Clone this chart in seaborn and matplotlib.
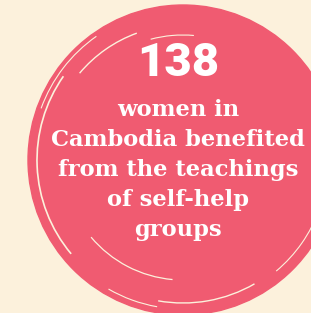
import matplotlib
matplotlib.use("Agg")
import matplotlib.pyplot as plt
from matplotlib.patches import Circle, Arc
import seaborn as sns

# infographic content
headline = "138"
body_lines = ["women in", "Cambodia benefited", "from the teachings", "of self-help", "groups"]

pink = "#F05B71"
cream = "#FCF1DC"

sns.set_theme(style="white", rc={"axes.facecolor": cream, "figure.facecolor": cream})

fig = plt.figure(figsize=(3.11, 3.13), dpi=100)
ax = fig.add_axes([0, 0, 1, 1])
ax.set_xlim(0, 311)
ax.set_ylim(313, 0)
ax.set_aspect("equal")
ax.axis("off")

# main disc
cx, cy, r = 183, 160, 155
ax.add_patch(Circle((cx, cy), r, color=pink, zorder=1))

# brush-stroke gaps (cream arcs)
strokes = [
    (r - 9, 140, 215, 1.2),
    (r - 4, 200, 235, 0.8),
    (r - 12, 60, 100, 1.0),
    (r - 6, 100, 120, 0.8),
    (r - 35, 95, 140, 0.9),
    (r - 20, 220, 250, 1.0),
    (r - 30, 255, 275, 0.8),
    (r - 10, 20, 50, 0.8),
]
for rad, t1, t2, lw in strokes:
    ax.add_patch(Arc((cx, cy), 2 * rad, 2 * rad, theta1=t1, theta2=t2,
                     color=cream, lw=lw, zorder=2))

ax.text(178, 63, headline, ha="center", va="center", color="white",
        fontsize=34, fontweight=900, family="Roboto", zorder=3)

y0 = 110
for i, line in enumerate(body_lines):
    ax.text(178, y0 + 30 * i, line, ha="center", va="center", color="white",
            fontsize=16.3, fontweight="bold", family="DejaVu Serif", zorder=3)

plt.savefig("out.png", dpi=100, facecolor=cream)
